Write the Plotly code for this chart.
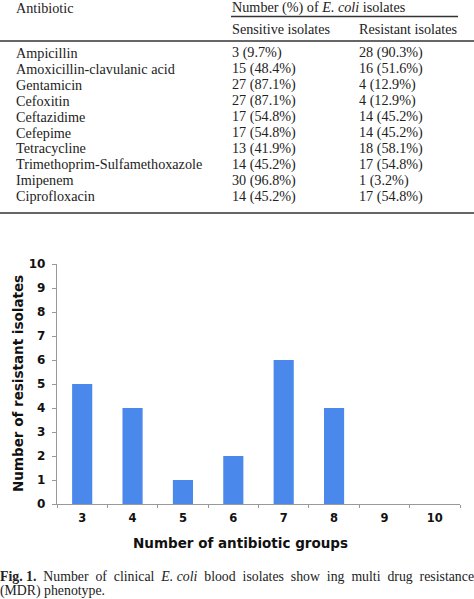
import plotly.graph_objects as go

W, H = 474, 599

# ---- data ----
antibiotics = ["Ampicillin", "Amoxicillin-clavulanic acid", "Gentamicin", "Cefoxitin",
               "Ceftazidime", "Cefepime", "Tetracycline", "Trimethoprim-Sulfamethoxazole",
               "Imipenem", "Ciprofloxacin"]
sensitive = ["3 (9.7%)", "15 (48.4%)", "27 (87.1%)", "27 (87.1%)", "17 (54.8%)",
             "17 (54.8%)", "13 (41.9%)", "14 (45.2%)", "30 (96.8%)", "14 (45.2%)"]
resistant = ["28 (90.3%)", "16 (51.6%)", "4 (12.9%)", "4 (12.9%)", "14 (45.2%)",
             "14 (45.2%)", "18 (58.1%)", "17 (54.8%)", "1 (3.2%)", "17 (54.8%)"]

groups = ["3", "4", "5", "6", "7", "8", "9", "10"]
n_resistant = [5, 4, 1, 2, 6, 4, 0, 0]
y_ticks = list(range(0, 11))

# ---- helpers (pixel -> paper) ----
def px(x):
    return x / W

def py(y):
    return 1 - y / H

SERIF = "Liberation Serif"
SANS_B = "DejaVu Sans"
TXT = "#222222"
TS = 14.2

fig = go.Figure()
fig.add_trace(go.Bar(x=groups, y=n_resistant, marker=dict(color="#4a88ec", line=dict(width=0)),
                     width=0.4))

annotations = []
shapes = []

def text(x, y, s, size=TS, font=SERIF, anchor="left", **kw):
    annotations.append(dict(x=px(x), y=py(y), xref="paper", yref="paper", text=s,
                            showarrow=False, xanchor=anchor, yanchor="middle",
                            font=dict(family=font, size=size, color=TXT), **kw))

# table header
text(14, 8, "Antibiotic")
text(230, 8, "Number (%) of <i>E. coli</i> isolates")
text(230, 29, "Sensitive isolates")
text(357, 29, "Resistant isolates")
shapes.append(dict(type="line", xref="paper", yref="paper", x0=px(231), x1=px(458),
                   y0=py(16.5), y1=py(16.5), line=dict(color="#333", width=1.3)))
shapes.append(dict(type="line", xref="paper", yref="paper", x0=0, x1=1,
                   y0=py(41), y1=py(41), line=dict(color="#333", width=1.6)))
shapes.append(dict(type="line", xref="paper", yref="paper", x0=0, x1=1,
                   y0=py(213), y1=py(213), line=dict(color="#333", width=1.6)))

for i, (a, s, r) in enumerate(zip(antibiotics, sensitive, resistant)):
    y = 53 + 15.9 * i
    text(14, y, a)
    text(230, y, s)
    text(357, y, r)

# chart titles
annotations.append(dict(x=px(18), y=py(384), xref="paper", yref="paper",
                        text="<b>Number of resistant isolates</b>", textangle=-90,
                        showarrow=False, xanchor="center", yanchor="middle",
                        font=dict(family=SANS_B, size=13.5, color="#111")))
annotations.append(dict(x=px(240), y=py(543), xref="paper", yref="paper",
                        text="<b>Number of antibiotic groups</b>",
                        showarrow=False, xanchor="center", yanchor="middle",
                        font=dict(family=SANS_B, size=13.5, color="#111")))

# caption
text(-2, 576, "<b>Fig. 1.</b>  Number  of  clinical  <i>E. coli</i>  blood  isolates  show  ing  multi  drug  resistance",
     size=13.8)
text(-2, 591, "(MDR) phenotype.", size=13.8)

fig.update_layout(
    width=W, height=H,
    margin=dict(l=0, r=0, t=0, b=0),
    paper_bgcolor="white", plot_bgcolor="white",
    showlegend=False,
    bargap=0.6,
    annotations=annotations,
    shapes=shapes,
    xaxis=dict(domain=[px(57), px(460)], type="category", tickson="boundaries",
               ticks="outside", ticklen=3, tickcolor="#999", showline=True,
               linecolor="#999", linewidth=1.3, showgrid=False, zeroline=False,
               tickfont=dict(family=SANS_B, size=11.5, color="#111", weight="bold"),
               ticklabelstandoff=3, automargin=False),
    yaxis=dict(domain=[py(504), py(264)], range=[0, 10], tickvals=y_ticks,
               ticks="outside", ticklen=4, tickcolor="#999", showline=True,
               linecolor="#999", linewidth=1.3, showgrid=False, zeroline=False,
               tickfont=dict(family=SANS_B, size=12, color="#111", weight="bold"),
               ticklabelstandoff=4, automargin=False),
)

fig.write_html("out.html", config={"displayModeBar": False},
               post_script="document.body.style.margin='0';document.body.style.overflow='hidden';")
